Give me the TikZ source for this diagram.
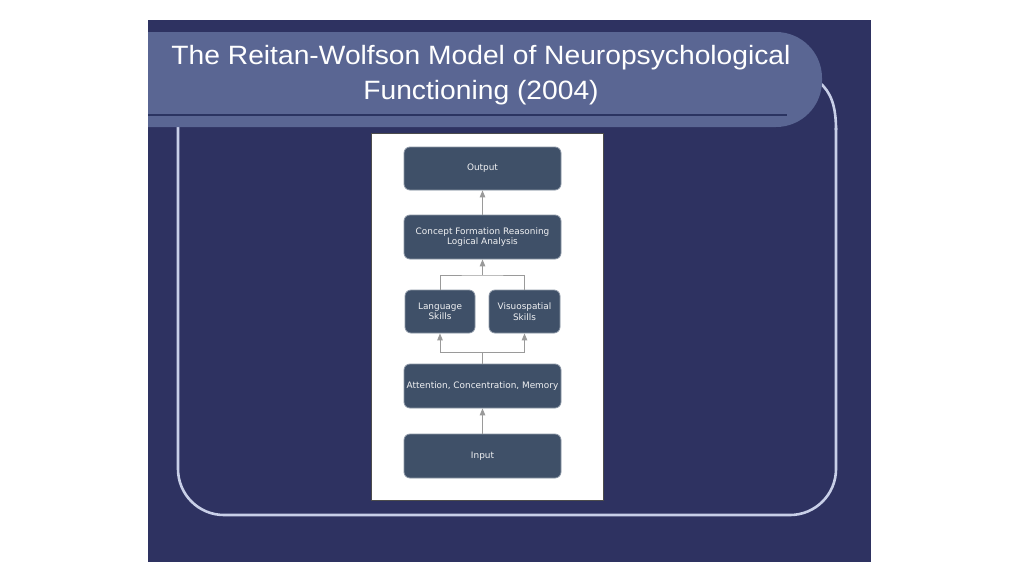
\documentclass[tikz,border=0pt]{standalone}
\usepackage{fontspec}
\setmainfont{Liberation Sans}
\newfontfamily\diagfont{DejaVu Sans}
\usetikzlibrary{arrows.meta}
\definecolor{slidebg}{HTML}{2E3261}
\definecolor{bannerfill}{HTML}{5A6693}
\definecolor{bannerline}{HTML}{2B3461}
\definecolor{framecol}{HTML}{C8CFE8}
\definecolor{nodefill}{HTML}{3F5068}
\definecolor{nodeborder}{HTML}{8C97A6}
\definecolor{arrowgray}{HTML}{9A9A9A}
\tikzset{
  box/.style={rounded corners=6pt, fill=nodefill, draw=nodeborder, line width=0.8pt,
    text=white!92!nodefill, font=\diagfont\fontsize{8.9}{10.5}\selectfont, align=center, inner sep=0pt},
  link/.style={draw=arrowgray, line width=1pt},
  arr/.style={link, -{Triangle[length=7pt,width=5.5pt]}},
  framepath/.style={draw=framecol, line width=2.6pt},
}
\begin{document}
\begin{tikzpicture}[x=1pt,y=-1pt]
\useasboundingbox[fill=white] (0,0) rectangle (1024,576);
% slide
\fill[slidebg] (148,20) rectangle (871,562);
% frame
\draw[framepath, rounded corners=46pt] (178,120) -- (178,515) -- (836,515) -- (836,128);
\draw[framepath] (836,130) .. controls (836,106) and (831,92) .. (819,82);
% banner
\begin{scope}
\clip (148,20) rectangle (871,562);
\fill[bannerfill, rounded corners=46pt] (90,32) rectangle (822,127);
\end{scope}
\draw[bannerline, line width=2.5pt] (148,115) -- (787,115);
\node[text=white, font=\fontsize{26.5}{35}\selectfont, align=center, xscale=1.065] (title) at (481,75)
  {The Reitan-Wolfson Model of Neuropsychological\\Functioning (2004)};
% panel
\draw[fill=white, draw=black!70, line width=0.8pt] (371,133) rectangle (603,500);
% nodes
\node[box, minimum width=157pt, minimum height=43pt] (output) at (482.5,168.5) {Output};
\node[box, minimum width=157pt, minimum height=44pt] (concept) at (482.5,237) {Concept Formation Reasoning\\Logical Analysis};
\node[box, minimum width=70pt, minimum height=43pt] (lang) at (440,311.5) {Language\\Skills};
\node[box, minimum width=71pt, minimum height=43pt] (vis) at (524.5,311.5) {Visuospatial\\Skills};
\node[box, minimum width=157pt, minimum height=44pt] (attn) at (482.5,386) {Attention, Concentration, Memory};
\node[box, minimum width=157pt, minimum height=44pt] (input) at (482.5,456) {Input};
\coordinate (mtop) at (482.5,275);
\coordinate (mbot) at (482.5,352);
% connectors
\draw[arr] (concept.north) -- (output.south);
\draw[link] (lang.north) |- (mtop) -| (vis.north);
\draw[arr] (mtop) -- (concept.south);
\draw[link] (attn.north) -- (mbot);
\draw[arr] (mbot) -| (lang.south);
\draw[arr] (mbot) -| (vis.south);
\draw[arr] (input.north) -- (attn.south);
\end{tikzpicture}
\end{document}
